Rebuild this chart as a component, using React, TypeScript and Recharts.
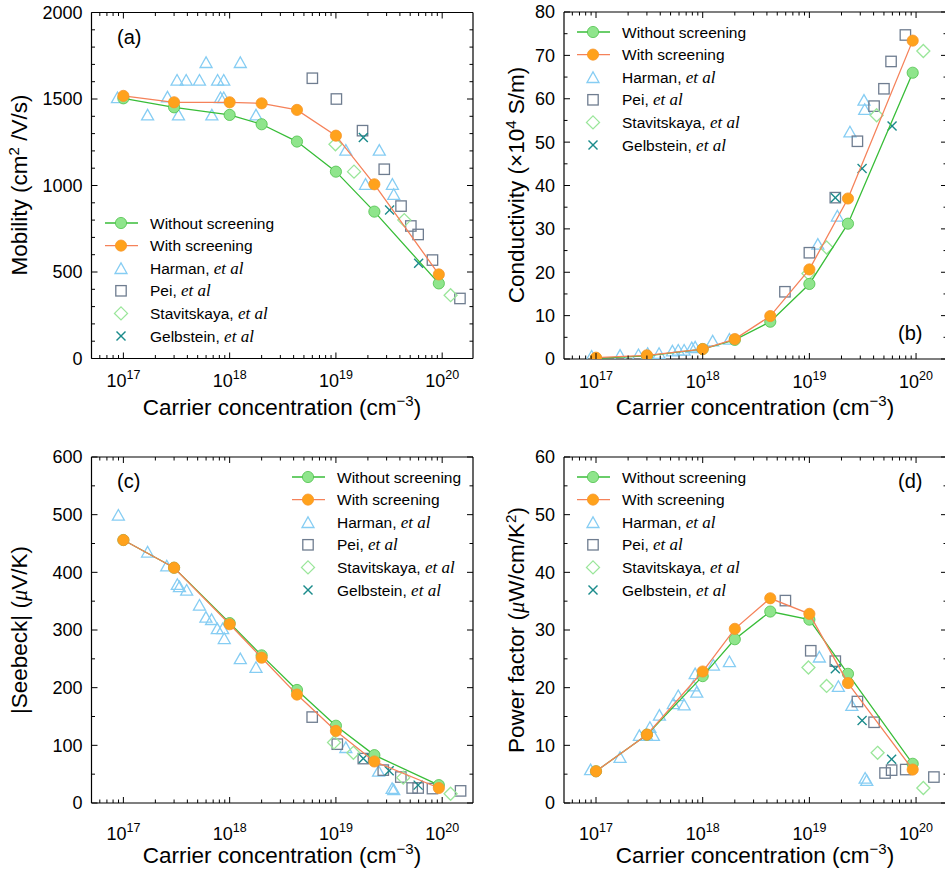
import React from 'react';
import { ComposedChart, Scatter, XAxis, YAxis } from 'recharts';

const SANS = '"Liberation Sans", Arial, Helvetica, sans-serif';
const SERIF = '"Liberation Serif", "Times New Roman", serif';

// carrier concentrations of the calculated points (same in every panel)
const nTheory = [1e17, 3e17, 1e18, 2e18, 4.3e18, 1e19, 2.3e19, 9.3e19];

// (a) mobility, cm2/V/s
const mobNoScreen = [1504, 1452, 1408, 1354, 1254, 1080, 849, 434];
const mobScreen = [1518, 1481, 1481, 1475, 1437, 1288, 1007, 486];
const harmanMob = [[8.8e16, 1504], [1.69e17, 1404], [2.6e17, 1508], [3.2e17, 1605], [3.3e17, 1404], [3.9e17, 1605], [5.2e17, 1605], [6.0e17, 1707], [6.8e17, 1404], [7.7e17, 1605], [8.2e17, 1504], [8.8e17, 1605], [8.8e17, 1504], [1.26e18, 1707], [1.77e18, 1404], [1.24e19, 1200], [1.9e19, 1003], [2.56e19, 1200], [3.4e19, 1003], [3.5e19, 945]];
const peiMob = [[6.0e18, 1620], [1.01e19, 1500], [1.78e19, 1317], [2.85e19, 1094], [4.1e19, 881], [5.07e19, 766], [5.94e19, 717], [8.1e19, 569], [1.47e20, 347]];
const stavMob = [[9.9e18, 1238], [1.48e19, 1080], [4.4e19, 800], [1.2e20, 366]];
const gelbMob = [[1.81e19, 1277], [3.2e19, 858], [6.0e19, 550]];

// (b) conductivity, 10^4 S/m
const condNoScreen = [0.15, 0.7, 2.3, 4.4, 8.6, 17.3, 31.2, 66.0];
const condScreen = [0.3, 0.85, 2.3, 4.6, 9.9, 20.65, 37.0, 73.4];
const harmanCond = [[9.1e16, 0.5], [1.68e17, 0.7], [2.5e17, 0.85], [3.05e17, 1.15], [3.9e17, 1.15], [5.2e17, 1.7], [5.9e17, 1.9], [6.7e17, 1.9], [7.9e17, 2.45], [8.5e17, 2.6], [1.24e18, 4.0], [1.78e18, 4.4], [1.2e19, 26.3], [1.83e19, 32.8], [2.4e19, 52.2], [3.25e19, 59.5], [3.3e19, 57.4]];
const peiCond = [[5.9e18, 15.5], [1.0e19, 24.5], [1.75e19, 37.2], [2.82e19, 50.2], [4.04e19, 58.3], [5.0e19, 62.3], [5.83e19, 68.6], [7.94e19, 74.7]];
const stavCond = [[9.8e18, 19.7], [1.45e19, 25.7], [4.27e19, 56.2], [1.17e20, 71.0]];
const gelbCond = [[1.75e19, 37.2], [3.12e19, 43.9], [5.96e19, 53.7]];

// (c) |Seebeck|, uV/K
const seebNoScreen = [456, 408, 312, 256, 196, 134, 83, 31];
const seebScreen = [456, 408, 310, 252, 188, 125, 72, 26];
const harmanSeeb = [[8.97e16, 498], [1.69e17, 434], [2.56e17, 410], [3.22e17, 378], [3.37e17, 374], [3.94e17, 368], [5.2e17, 342], [5.98e17, 321], [6.76e17, 317], [7.65e17, 301], [8.6e17, 301], [8.9e17, 284], [1.26e18, 249], [1.77e18, 234], [1.24e19, 95], [2.52e19, 54], [3.38e19, 24], [3.5e19, 22]];
const peiSeeb = [[5.98e18, 149], [1.03e19, 102], [1.81e19, 77], [2.79e19, 57], [4.08e19, 45], [5.22e19, 26], [5.94e19, 26], [8.1e19, 25], [1.49e20, 21]];
const stavSeeb = [[9.6e18, 105], [1.46e19, 87], [4.3e19, 44], [1.2e20, 16]];
const gelbSeeb = [[1.81e19, 77], [3.17e19, 56], [5.94e19, 31]];

// (d) power factor, uW/cm/K2
const pfNoScreen = [5.5, 11.85, 22.0, 28.4, 33.2, 31.8, 22.4, 6.8];
const pfScreen = [5.5, 11.85, 22.8, 30.2, 35.5, 32.8, 20.8, 5.8];
const harmanPf = [[8.9e16, 5.66], [1.68e17, 7.8], [2.55e17, 11.6], [2.99e17, 11.6], [3.2e17, 13.0], [3.45e17, 11.6], [3.93e17, 15.1], [5.3e17, 17.1], [5.9e17, 18.5], [6.7e17, 16.9], [8.2e17, 20.2], [8.5e17, 22.3], [8.8e17, 19.1], [1.26e18, 23.8], [1.78e18, 24.4], [1.24e19, 25.2], [1.87e19, 20.1], [2.5e19, 16.8], [3.33e19, 4.2], [3.45e19, 3.8]];
const peiPf = [[5.96e18, 35.1], [1.03e19, 26.4], [1.75e19, 24.6], [2.82e19, 17.6], [4.04e19, 14.0], [5.12e19, 5.2], [5.9e19, 5.7], [8.0e19, 5.8], [1.47e20, 4.5]];
const stavPf = [[9.8e18, 23.5], [1.45e19, 20.3], [4.36e19, 8.7], [1.17e20, 2.6]];
const gelbPf = [[1.75e19, 23.3], [3.12e19, 14.3], [5.9e19, 7.6]];

// axes
const X_DOMAIN: [number, number] = [Math.pow(10, 16.7), Math.pow(10, 20.29)];
const xDecades = [16, 17, 18, 19, 20];
const xMantissas = [1, 2, 3, 4, 5, 6, 7, 8, 9];
const xTicks = xDecades
  .flatMap((d) => xMantissas.map((m) => m * Math.pow(10, d)))
  .filter((v) => v >= X_DOMAIN[0] && v <= X_DOMAIN[1]);

const mobTicks = Array.from({ length: 21 }, (_, i) => i * 100);
const condTicks = Array.from({ length: 17 }, (_, i) => i * 5);
const seebTicks = Array.from({ length: 13 }, (_, i) => i * 50);
const pfTicks = Array.from({ length: 13 }, (_, i) => i * 5);

const COL = {
  greenLine: '#38bd38',
  greenFill: '#8fe58c',
  greenEdge: '#4cc24a',
  orangeLine: '#f5825a',
  orangeFill: '#ffa21c',
  orangeEdge: '#f8962a',
  harman: '#86cdf3',
  pei: '#6f7d90',
  stav: '#9ae69a',
  gelb: '#1b8b8b',
};

type Pt = { x: number; y: number };
const zip = (xs: number[], ys: number[]): Pt[] => xs.map((x, i) => ({ x, y: ys[i] }));
const pairs = (a: number[][]): Pt[] => a.map(([x, y]) => ({ x, y }));

// marker shapes
const Circle = ({ cx, cy, fill, stroke }: any) => (
  <circle cx={cx} cy={cy} r={5.6} fill={fill} stroke={stroke} strokeWidth={0.8} />
);
const Tri = ({ cx, cy }: any) => (
  <polygon points={`${cx},${cy - 6.3} ${cx - 6},${cy + 4.3} ${cx + 6},${cy + 4.3}`} fill="none" stroke={COL.harman} strokeWidth={1.3} />
);
const Sq = ({ cx, cy }: any) => (
  <rect x={cx - 5.2} y={cy - 5.2} width={10.4} height={10.4} fill="none" stroke={COL.pei} strokeWidth={1.3} />
);
const Dia = ({ cx, cy }: any) => (
  <polygon points={`${cx},${cy - 6.5} ${cx + 6.5},${cy} ${cx},${cy + 6.5} ${cx - 6.5},${cy}`} fill="none" stroke={COL.stav} strokeWidth={1.3} />
);
const Cross = ({ cx, cy }: any) => (
  <g stroke={COL.gelb} strokeWidth={1.4}>
    <line x1={cx - 4.5} y1={cy - 4.5} x2={cx + 4.5} y2={cy + 4.5} />
    <line x1={cx - 4.5} y1={cy + 4.5} x2={cx + 4.5} y2={cy - 4.5} />
  </g>
);

const isDecade = (v: number) => Math.abs(Math.log10(v) - Math.round(Math.log10(v))) < 1e-9;
const MAJ = 6;
const MIN = 3.5;

const BottomTick = ({ x, y, payload, labelDy }: any) => {
  const v = payload.value;
  const major = isDecade(v);
  return (
    <g>
      <line x1={x} y1={y} x2={x} y2={y - (major ? MAJ : MIN)} stroke="#000" strokeWidth={1} />
      {major && (
        <text x={x} y={y + labelDy} textAnchor="middle" fontFamily={SANS} fontSize={18} fill="#000">
          10<tspan dy={-8} fontSize={12.5}>{Math.round(Math.log10(v))}</tspan>
        </text>
      )}
    </g>
  );
};
const TopTick = ({ x, y, payload }: any) => {
  const major = isDecade(payload.value);
  return <line x1={x} y1={y} x2={x} y2={y + (major ? MAJ : MIN)} stroke="#000" strokeWidth={1} />;
};
const LeftTick = ({ x, y, payload, step }: any) => {
  const v = payload.value;
  const major = v % step === 0;
  return (
    <g>
      <line x1={x} y1={y} x2={x + (major ? MAJ : MIN)} y2={y} stroke="#000" strokeWidth={1} />
      {major && (
        <text x={x - 9} y={y} dy="0.36em" textAnchor="end" fontFamily={SANS} fontSize={18} fill="#000">
          {v}
        </text>
      )}
    </g>
  );
};
const RightTick = ({ x, y, payload, step }: any) => {
  const major = payload.value % step === 0;
  return <line x1={x} y1={y} x2={x - (major ? MAJ : MIN)} y2={y} stroke="#000" strokeWidth={1} />;
};

const AXIS = { stroke: '#000', strokeWidth: 1.2 };

interface PanelProps {
  left: number;
  top: number;
  width: number;
  height: number;
  leftW: number;
  rightW: number;
  topH: number;
  bottomH: number;
  yMax: number;
  yTicks: number[];
  step: number;
  labelDy: number;
  noScreen: number[];
  screen: number[];
  harman: number[][];
  pei: number[][];
  stav: number[][];
  gelb: number[][];
}

const Panel: React.FC<PanelProps> = (p) => (
  <div style={{ position: 'absolute', left: p.left, top: p.top }}>
    <ComposedChart width={p.width} height={p.height} margin={{ top: 0, right: 0, bottom: 0, left: 0 }}>
      <XAxis
        xAxisId="b" dataKey="x" type="number" scale="log" domain={X_DOMAIN} allowDataOverflow
        ticks={xTicks} interval={0} height={p.bottomH} tickSize={0} tickMargin={0} tickLine={false}
        axisLine={AXIS} tick={(t: any) => <BottomTick {...t} labelDy={p.labelDy} />}
      />
      <XAxis
        xAxisId="t" orientation="top" dataKey="x" type="number" scale="log" domain={X_DOMAIN} allowDataOverflow
        ticks={xTicks} interval={0} height={p.topH} tickSize={0} tickMargin={0} tickLine={false}
        axisLine={AXIS} tick={(t: any) => <TopTick {...t} />}
      />
      <YAxis
        yAxisId="l" dataKey="y" type="number" domain={[0, p.yMax]} allowDataOverflow
        ticks={p.yTicks} interval={0} width={p.leftW} tickSize={0} tickMargin={0} tickLine={false}
        axisLine={AXIS} tick={(t: any) => <LeftTick {...t} step={p.step} />}
      />
      <YAxis
        yAxisId="r" orientation="right" dataKey="y" type="number" domain={[0, p.yMax]} allowDataOverflow
        ticks={p.yTicks} interval={0} width={p.rightW} tickSize={0} tickMargin={0} tickLine={false}
        axisLine={AXIS} tick={(t: any) => <RightTick {...t} step={p.step} />}
      />
      <Scatter xAxisId="b" yAxisId="l" data={pairs(p.harman)} shape={Tri} isAnimationActive={false} />
      <Scatter xAxisId="b" yAxisId="l" data={pairs(p.pei)} shape={Sq} isAnimationActive={false} />
      <Scatter xAxisId="b" yAxisId="l" data={pairs(p.stav)} shape={Dia} isAnimationActive={false} />
      <Scatter xAxisId="b" yAxisId="l" data={pairs(p.gelb)} shape={Cross} isAnimationActive={false} />
      <Scatter
        xAxisId="b" yAxisId="l" data={zip(nTheory, p.noScreen)} isAnimationActive={false}
        line={{ stroke: COL.greenLine, strokeWidth: 1.3 }} lineType="joint"
        shape={(s: any) => <Circle cx={s.cx} cy={s.cy} fill={COL.greenFill} stroke={COL.greenEdge} />}
      />
      <Scatter
        xAxisId="b" yAxisId="l" data={zip(nTheory, p.screen)} isAnimationActive={false}
        line={{ stroke: COL.orangeLine, strokeWidth: 1.3 }} lineType="joint"
        shape={(s: any) => <Circle cx={s.cx} cy={s.cy} fill={COL.orangeFill} stroke={COL.orangeEdge} />}
      />
    </ComposedChart>
  </div>
);

const EtAl = () => <tspan fontFamily={SERIF} fontStyle="italic" fontSize={17}>et al</tspan>;

// legend block: x of line start, first row y
const Legend = ({ x, y }: { x: number; y: number }) => {
  const gap = 22.6;
  const mx = x + 16;
  const tx = x + 45;
  const txt = (i: number, children: React.ReactNode) => (
    <text x={tx} y={y + i * gap + 5.5} fontFamily={SANS} fontSize={15.5} fill="#000">{children}</text>
  );
  return (
    <g>
      <line x1={x} y1={y} x2={x + 33} y2={y} stroke={COL.greenLine} strokeWidth={1.3} />
      <Circle cx={mx} cy={y} fill={COL.greenFill} stroke={COL.greenEdge} />
      {txt(0, 'Without screening')}
      <line x1={x} y1={y + gap} x2={x + 33} y2={y + gap} stroke={COL.orangeLine} strokeWidth={1.3} />
      <Circle cx={mx} cy={y + gap} fill={COL.orangeFill} stroke={COL.orangeEdge} />
      {txt(1, 'With screening')}
      <Tri cx={mx} cy={y + 2 * gap + 1} />
      {txt(2, <>Harman, <EtAl /></>)}
      <Sq cx={mx} cy={y + 3 * gap} />
      {txt(3, <>Pei, <EtAl /></>)}
      <Dia cx={mx} cy={y + 4 * gap} />
      {txt(4, <>Stavitskaya, <EtAl /></>)}
      <Cross cx={mx} cy={y + 5 * gap} />
      {txt(5, <>Gelbstein, <EtAl /></>)}
    </g>
  );
};

const XTitle = ({ cx, y }: { cx: number; y: number }) => (
  <text x={cx} y={y} textAnchor="middle" fontFamily={SANS} fontSize={22.5} fill="#000">
    Carrier concentration (cm<tspan dy={-9} fontSize={15}>−3</tspan><tspan dy={9}>)</tspan>
  </text>
);

const YTitle = ({ x, cy, children }: { x: number; cy: number; children: React.ReactNode }) => (
  <text x={0} y={0} transform={`translate(${x},${cy}) rotate(-90)`} textAnchor="middle" fontFamily={SANS} fontSize={22.5} fill="#000">
    {children}
  </text>
);

const Mu = () => <tspan fontFamily={SERIF} fontStyle="italic">μ</tspan>;

export default function App() {
  return (
    <div style={{ position: 'absolute', left: 0, top: 0, width: 945, height: 871, overflow: 'hidden', background: '#fff' }}>
      <Panel left={0} top={0} width={480} height={420} leftW={91.5} rightW={7} topH={12.5} bottomH={61.5}
        yMax={2000} yTicks={mobTicks} step={500} labelDy={28.5}
        noScreen={mobNoScreen} screen={mobScreen} harman={harmanMob} pei={peiMob} stav={stavMob} gelb={gelbMob} />
      <Panel left={480} top={0} width={470} height={420} leftW={84} rightW={3} topH={12} bottomH={61}
        yMax={80} yTicks={condTicks} step={10} labelDy={28.5}
        noScreen={condNoScreen} screen={condScreen} harman={harmanCond} pei={peiCond} stav={stavCond} gelb={gelbCond} />
      <Panel left={0} top={440} width={480} height={431} leftW={91.5} rightW={7} topH={17} bottomH={68}
        yMax={600} yTicks={seebTicks} step={100} labelDy={37}
        noScreen={seebNoScreen} screen={seebScreen} harman={harmanSeeb} pei={peiSeeb} stav={stavSeeb} gelb={gelbSeeb} />
      <Panel left={480} top={440} width={470} height={431} leftW={84} rightW={3} topH={17} bottomH={68}
        yMax={60} yTicks={pfTicks} step={10} labelDy={37}
        noScreen={pfNoScreen} screen={pfScreen} harman={harmanPf} pei={peiPf} stav={stavPf} gelb={gelbPf} />

      <svg width={945} height={871} style={{ position: 'absolute', left: 0, top: 0, pointerEvents: 'none' }}>
        <text x={117} y={44} fontFamily={SANS} fontSize={20}>(a)</text>
        <text x={898} y={340} fontFamily={SANS} fontSize={20}>(b)</text>
        <text x={117} y={488} fontFamily={SANS} fontSize={20}>(c)</text>
        <text x={898} y={488} fontFamily={SANS} fontSize={20}>(d)</text>

        <Legend x={105} y={223} />
        <Legend x={577} y={32} />
        <Legend x={292} y={477} />
        <Legend x={577} y={477} />

        <XTitle cx={282} y={415} />
        <XTitle cx={755} y={415} />
        <XTitle cx={282} y={863} />
        <XTitle cx={755} y={863} />

        <YTitle x={27} cy={185}>
          Mobility (cm<tspan dy={-8} fontSize={15}>2</tspan><tspan dy={8}> /V/s)</tspan>
        </YTitle>
        <YTitle x={524} cy={185}>
          Conductivity  (×10<tspan dy={-8} fontSize={15}>4</tspan><tspan dy={8}> S/m)</tspan>
        </YTitle>
        <YTitle x={27} cy={630}>
          |Seebeck| (<Mu />V/K)
        </YTitle>
        <YTitle x={524} cy={630}>
          Power factor (<Mu />W/cm/K<tspan dy={-8} fontSize={15}>2</tspan><tspan dy={8}>)</tspan>
        </YTitle>
      </svg>
    </div>
  );
}
